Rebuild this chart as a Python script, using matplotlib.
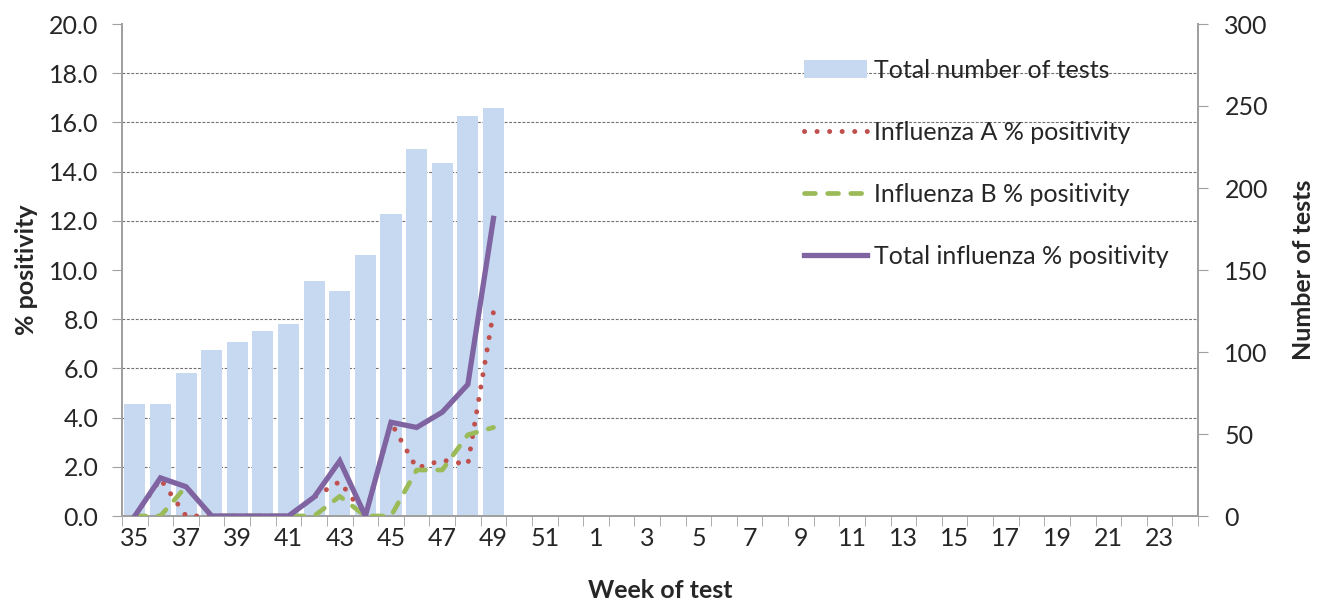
import matplotlib
matplotlib.use("Agg")
import matplotlib.pyplot as plt
from matplotlib.ticker import MultipleLocator, FixedLocator
import numpy as np

plt.rcParams["font.family"] = ["Lato", "DejaVu Sans"]

weeks = list(range(35, 53)) + list(range(1, 25))
total_tests = [68, 68, 87, 101, 106, 113, 117, 143, 137, 159, 184, 224, 215, 244, 249]
flu_a = [0.0, 1.5, 0.0, 0.0, 0.0, 0.0, 0.0, 0.77, 1.4, 0.0, 3.8, 1.95, 2.27, 2.1, 8.3]
flu_b = [0.0, 0.0, 1.2, 0.0, 0.0, 0.0, 0.0, 0.0, 0.8, 0.0, 0.0, 1.87, 1.87, 3.3, 3.6]
flu_total = [0.0, 1.55, 1.19, 0.0, 0.0, 0.0, 0.0, 0.77, 2.24, 0.0, 3.81, 3.6, 4.22, 5.35, 12.1]

spine_col = "#a0a0a0"
text_col = "#262626"
fs = 18

fig = plt.figure(figsize=(13.19, 6.06), dpi=100)
ax_bar = fig.add_axes([122 / 1319, 90 / 606, 1076 / 1319, 492 / 606])
ax = ax_bar.twinx()

x = np.arange(len(weeks))
xd = np.arange(len(total_tests))

bars = ax_bar.bar(xd, total_tests, width=0.82, color="#c6d9f1", zorder=2,
                  label="Total number of tests")
ax_bar.set_ylim(0, 300)
ax_bar.yaxis.tick_right()
ax_bar.yaxis.set_label_position("right")
ax_bar.yaxis.set_major_locator(MultipleLocator(50))
ax_bar.yaxis.set_minor_locator(MultipleLocator(30))
ax_bar.grid(which="minor", axis="y", color="#6f6f6f", linestyle=(0, (2.5, 1.5)),
            linewidth=0.8, zorder=0)
ax_bar.tick_params(axis="y", which="minor", length=0)
ax_bar.tick_params(axis="y", which="major", direction="out", length=7,
                   color=spine_col, labelsize=fs, labelcolor=text_col, pad=12)
ax_bar.set_ylabel("Number of tests", fontsize=fs, fontweight="bold",
                  color=text_col, labelpad=17)

ax.plot(xd, flu_a, color="#c0504d", linestyle=(0, (0.01, 2.5)), linewidth=3.6,
        dash_capstyle="round", label="Influenza A % positivity", zorder=3)
ax.plot(xd, flu_b, color="#9bbb59", linestyle=(0, (2.3, 2.6)), linewidth=3.4,
        dash_capstyle="round", label="Influenza B % positivity", zorder=3)
ax.plot(xd, flu_total, color="#8064a2", linewidth=3.8, solid_joinstyle="miter",
        label="Total influenza % positivity", zorder=4)
ax.set_ylim(0, 20)
ax.yaxis.tick_left()
ax.yaxis.set_label_position("left")
ax.yaxis.set_major_locator(MultipleLocator(2))
ax.yaxis.set_major_formatter(matplotlib.ticker.FormatStrFormatter("%.1f"))
ax.tick_params(axis="y", direction="out", length=7, color=spine_col,
               labelsize=fs, labelcolor=text_col, pad=10)
ax.set_ylabel("% positivity", fontsize=fs, fontweight="bold", color=text_col, labelpad=8)

ax_bar.set_xlim(-0.5, len(weeks) - 0.5)
ax_bar.xaxis.set_major_locator(FixedLocator(x[::2]))
ax_bar.set_xticklabels([str(w) for w in weeks[::2]])
ax_bar.xaxis.set_minor_locator(FixedLocator(np.arange(len(weeks) + 1) - 0.5))
ax_bar.tick_params(axis="x", which="major", length=0, labelsize=fs,
                   labelcolor=text_col, pad=8)
ax_bar.tick_params(axis="x", which="minor", direction="out", length=7, color=spine_col)
ax_bar.set_xlabel("Week of test", fontsize=fs, fontweight="bold", color=text_col, labelpad=21)

for a in (ax_bar, ax):
    a.spines["top"].set_visible(False)
    for s in ("left", "right", "bottom"):
        a.spines[s].set_color(spine_col)
        a.spines[s].set_linewidth(1.3)

handles = [bars] + ax.get_lines()
ax.legend(handles=handles, labels=[h.get_label() for h in handles],
          loc="upper left", bbox_to_anchor=(0.613, 0.975), frameon=False,
          fontsize=fs, handlelength=2.5, handletextpad=0.3, labelspacing=1.56,
          labelcolor=text_col)

fig.savefig("out.png", dpi=100)
